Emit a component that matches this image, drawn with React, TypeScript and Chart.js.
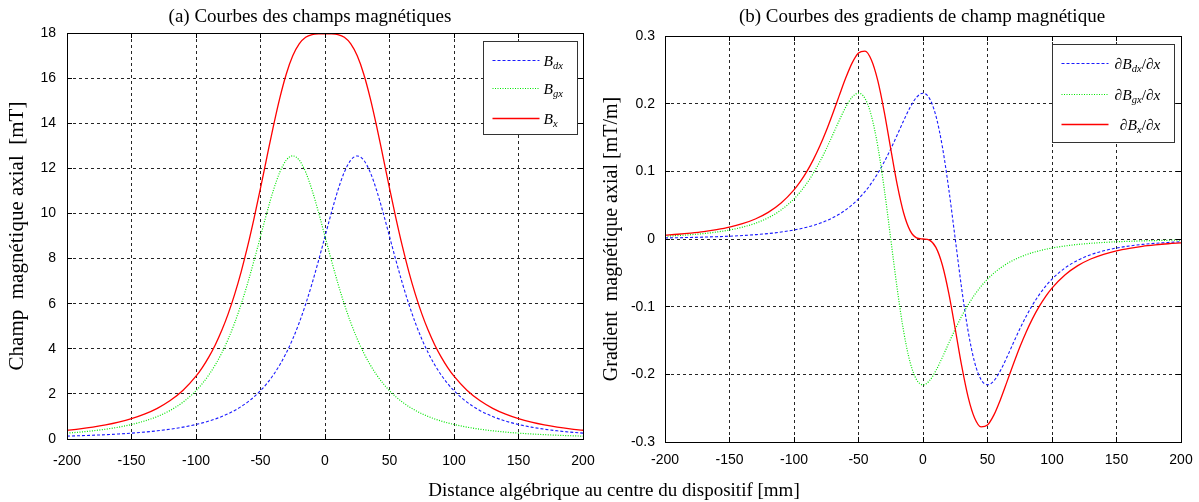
import React, { useEffect, useRef } from "react";
import { Chart, registerables } from "chart.js";

Chart.register(...registerables);

// ---------- data ----------
const xValues = [
  -200, -190, -180, -170, -160, -150, -140, -130, -120, -110,
  -100, -95, -90, -85, -80, -75, -70, -65, -60, -55, -50, -45, -40, -35, -30, -25, -20, -15, -10, -5,
  0, 5, 10, 15, 20, 25, 30, 35, 40, 45, 50, 55, 60, 65, 70, 75, 80, 85, 90, 95, 100,
  110, 120, 130, 140, 150, 160, 170, 180, 190, 200,
];

const fieldBdx = [
  0.128, 0.146, 0.167, 0.192, 0.223, 0.26, 0.306, 0.363, 0.435, 0.526,
  0.643, 0.714, 0.796, 0.889, 0.997, 1.122, 1.268, 1.437, 1.636, 1.868, 2.142, 2.464, 2.845, 3.293, 3.82, 4.437, 5.154, 5.976, 6.9, 7.913,
  8.98, 10.045, 11.028, 11.833, 12.364, 12.55, 12.364, 11.833, 11.028, 10.045, 8.98, 7.913, 6.9, 5.976, 5.154, 4.437, 3.82, 3.293, 2.845, 2.464, 2.142,
  1.636, 1.268, 0.997, 0.796, 0.643, 0.526, 0.435, 0.363, 0.306, 0.26,
];

const fieldBgx = [
  0.26, 0.306, 0.363, 0.435, 0.526, 0.643, 0.796, 0.997, 1.268, 1.636,
  2.142, 2.464, 2.845, 3.293, 3.82, 4.437, 5.154, 5.976, 6.9, 7.913, 8.98, 10.045, 11.028, 11.833, 12.364, 12.55, 12.364, 11.833, 11.028, 10.045,
  8.98, 7.913, 6.9, 5.976, 5.154, 4.437, 3.82, 3.293, 2.845, 2.464, 2.142, 1.868, 1.636, 1.437, 1.268, 1.122, 0.997, 0.889, 0.796, 0.714, 0.643,
  0.526, 0.435, 0.363, 0.306, 0.26, 0.223, 0.192, 0.167, 0.146, 0.128,
];

const fieldBx = [
  0.388, 0.452, 0.53, 0.627, 0.749, 0.903, 1.102, 1.36, 1.703, 2.162,
  2.785, 3.178, 3.641, 4.182, 4.817, 5.559, 6.422, 7.413, 8.536, 9.781, 11.122, 12.509, 13.873, 15.126, 16.184, 16.987, 17.518, 17.809, 17.928, 17.958,
  17.96, 17.958, 17.928, 17.809, 17.518, 16.987, 16.184, 15.126, 13.873, 12.509, 11.122, 9.781, 8.536, 7.413, 6.422, 5.559, 4.817, 4.182, 3.641, 3.178, 2.785,
  2.162, 1.703, 1.36, 1.102, 0.903, 0.749, 0.627, 0.53, 0.452, 0.388,
];

const gradBdx = [
  0.0016, 0.0019, 0.0023, 0.0028, 0.0034, 0.0041, 0.0051, 0.0064, 0.008, 0.0103,
  0.0133, 0.0152, 0.0175, 0.0201, 0.0232, 0.0269, 0.0314, 0.0366, 0.0429, 0.0504, 0.0593, 0.0699, 0.0825, 0.0972, 0.1141, 0.1331, 0.1538, 0.1749, 0.1945, 0.2095,
  0.2155, 0.2078, 0.1821, 0.1365, 0.0735, 0, -0.0735, -0.1365, -0.1821, -0.2078, -0.2155, -0.2095, -0.1945, -0.1749, -0.1538, -0.1331, -0.1141, -0.0972, -0.0825, -0.0699, -0.0593,
  -0.0429, -0.0314, -0.0232, -0.0175, -0.0133, -0.0103, -0.008, -0.0064, -0.0051, -0.0041,
];

const gradBgx = [
  0.0041, 0.0051, 0.0064, 0.008, 0.0103, 0.0133, 0.0175, 0.0232, 0.0314, 0.0429,
  0.0593, 0.0699, 0.0825, 0.0972, 0.1141, 0.1331, 0.1538, 0.1749, 0.1945, 0.2095, 0.2155, 0.2078, 0.1821, 0.1365, 0.0735, 0, -0.0735, -0.1365, -0.1821, -0.2078,
  -0.2155, -0.2095, -0.1945, -0.1749, -0.1538, -0.1331, -0.1141, -0.0972, -0.0825, -0.0699, -0.0593, -0.0504, -0.0429, -0.0366, -0.0314, -0.0269, -0.0232, -0.0201, -0.0175, -0.0152, -0.0133,
  -0.0103, -0.008, -0.0064, -0.0051, -0.0041, -0.0034, -0.0028, -0.0023, -0.0019, -0.0016,
];

const gradBx = [
  0.0057, 0.007, 0.0087, 0.0108, 0.0137, 0.0174, 0.0226, 0.0296, 0.0394, 0.0532,
  0.0726, 0.0851, 0.1, 0.1173, 0.1373, 0.16, 0.1852, 0.2115, 0.2374, 0.2599, 0.2748, 0.2777, 0.2646, 0.2337, 0.1876, 0.1331, 0.0803, 0.0384, 0.0124, 0.0017,
  0, -0.0017, -0.0124, -0.0384, -0.0803, -0.1331, -0.1876, -0.2337, -0.2646, -0.2777, -0.2748, -0.2599, -0.2374, -0.2115, -0.1852, -0.16, -0.1373, -0.1173, -0.1, -0.0851, -0.0726,
  -0.0532, -0.0394, -0.0296, -0.0226, -0.0174, -0.0137, -0.0108, -0.0087, -0.007, -0.0057,
];

// ---------- texts ----------
const titleA = "(a) Courbes des champs magnétiques";
const titleB = "(b) Courbes des gradients de champ magnétique";
const xAxisLabel = "Distance algébrique au centre du dispositif [mm]";
const yLabelA = "Champ  magnétique axial  [mT]";
const yLabelB = "Gradient  magnétique axial [mT/m]";

type Part = { t: string; sub?: boolean; up?: boolean };
const legendA: Part[][] = [
  [{ t: "B" }, { t: "dx", sub: true }],
  [{ t: "B" }, { t: "gx", sub: true }],
  [{ t: "B" }, { t: "x", sub: true }],
];
const legendB: Part[][] = [
  [{ t: "∂B" }, { t: "dx", sub: true }, { t: "/", up: true }, { t: "∂x" }],
  [{ t: "∂B" }, { t: "gx", sub: true }, { t: "/", up: true }, { t: "∂x" }],
  [{ t: "∂B" }, { t: "x", sub: true }, { t: "/", up: true }, { t: "∂x" }],
];

const SERIF = '"Liberation Serif", "Times New Roman", serif';
const SANS = '"Liberation Sans", Arial, sans-serif';

const styles = [
  { color: "#1a1aff", dash: [3, 2], width: 1.1, order: 3 },
  { color: "#00e600", dash: [1, 1.5], width: 1.2, order: 2 },
  { color: "#ff0000", dash: [] as number[], width: 1.3, order: 1 },
];

function drawMath(ctx: CanvasRenderingContext2D, parts: Part[], x: number, baseline: number, align: string) {
  const main = 15.5;
  const sub = 10.5;
  const fontOf = (p: Part) => `${p.up ? "" : "italic "}${p.sub ? sub : main}px ${SERIF}`;
  const widths = parts.map((p) => {
    ctx.font = fontOf(p);
    return ctx.measureText(p.t).width;
  });
  const total = widths.reduce((s, w) => s + w, 0);
  let cx = align === "right" ? x - total : x;
  ctx.fillStyle = "#000";
  ctx.textAlign = "left";
  ctx.textBaseline = "alphabetic";
  parts.forEach((p, i) => {
    ctx.font = fontOf(p);
    ctx.fillText(p.t, cx, p.sub ? baseline + 3 : baseline);
    cx += widths[i];
  });
}

const decorPlugin = {
  id: "decor",
  afterDatasetsDraw(chart: any, _args: any, opts: any) {
    const { ctx, chartArea: a, scales } = chart;
    const al = (v: number) => Math.round(v - 0.5) + 0.5;
    ctx.save();
    ctx.setLineDash([]);
    ctx.strokeStyle = "#000";
    ctx.lineWidth = 1;
    ctx.beginPath();
    const L = 5;
    for (const t of scales.x.ticks) {
      const p = al(scales.x.getPixelForValue(t.value));
      ctx.moveTo(p, a.bottom);
      ctx.lineTo(p, a.bottom - L);
      ctx.moveTo(p, a.top);
      ctx.lineTo(p, a.top + L);
    }
    for (const t of scales.y.ticks) {
      const p = al(scales.y.getPixelForValue(t.value));
      ctx.moveTo(a.left, p);
      ctx.lineTo(a.left + L, p);
      ctx.moveTo(a.right, p);
      ctx.lineTo(a.right - L, p);
    }
    ctx.stroke();
    ctx.strokeRect(al(a.left), al(a.top), Math.round(a.right - a.left), Math.round(a.bottom - a.top));

    const lg = opts.legend;
    const bx = Math.round(a.right - lg.right - lg.w) + 0.5;
    const by = Math.round(a.top + lg.top) + 0.5;
    ctx.fillStyle = "#fff";
    ctx.fillRect(bx, by, lg.w, lg.h);
    ctx.strokeStyle = "#333";
    ctx.lineWidth = 1;
    ctx.strokeRect(bx, by, lg.w, lg.h);
    styles.forEach((st, i) => {
      const y = Math.round(by + lg.rows[i]) + 0.5;
      ctx.beginPath();
      ctx.strokeStyle = st.color;
      ctx.lineWidth = st.width;
      ctx.setLineDash(st.dash);
      ctx.moveTo(bx + 9, y);
      ctx.lineTo(bx + 56, y);
      ctx.stroke();
      ctx.setLineDash([]);
      drawMath(ctx, lg.labels[i], bx + lg.textX, y + 5, lg.align);
    });
    ctx.restore();
  },
};

function makeConfig(p: {
  series: number[][];
  names: string[];
  yMin: number;
  yMax: number;
  yStep: number;
  yTitle: string;
  yTitleSize: number;
  yWidth: number;
  yTitlePad: number;
  yTickPad: number;
  xTickPad: number;
  padTop: number;
  padRight: number;
  padBottom: number;
  legend: any;
  yFmt: (v: number) => string;
}): any {
  const gridOpts = { color: "rgba(0,0,0,0.85)", lineWidth: 1, drawTicks: false };
  const borderOpts = { display: false, dash: [3, 3] };
  return {
    type: "line",
    data: {
      datasets: p.series.map((s, i) => ({
        label: p.names[i],
        data: xValues.map((x, j) => ({ x, y: s[j] })),
        borderColor: styles[i].color,
        borderWidth: styles[i].width,
        borderDash: styles[i].dash,
        order: styles[i].order,
        pointRadius: 0,
        fill: false,
        cubicInterpolationMode: "monotone",
      })),
    },
    options: {
      animation: false,
      responsive: false,
      layout: { padding: { left: 0, top: p.padTop, right: p.padRight, bottom: p.padBottom } },
      plugins: {
        legend: { display: false },
        tooltip: { enabled: false },
        title: { display: false },
        decor: { legend: p.legend },
      },
      scales: {
        x: {
          type: "linear",
          min: -200,
          max: 200,
          ticks: {
            stepSize: 50,
            autoSkip: false,
            maxRotation: 0,
            padding: p.xTickPad,
            color: "#000",
            font: { family: SANS, size: 14 },
            callback: (v: any) => String(Math.round(Number(v))),
          },
          grid: gridOpts,
          border: borderOpts,
          afterFit: (s: any) => {
            s.height = 30;
            s.paddingLeft = 0;
            s.paddingRight = 0;
          },
        },
        y: {
          type: "linear",
          min: p.yMin,
          max: p.yMax,
          ticks: {
            stepSize: p.yStep,
            autoSkip: false,
            padding: p.yTickPad,
            color: "#000",
            font: { family: SANS, size: 14 },
            callback: (v: any) => p.yFmt(Number(v)),
          },
          title: {
            display: true,
            text: p.yTitle,
            color: "#000",
            font: { family: SERIF, size: p.yTitleSize },
            padding: { top: p.yTitlePad, bottom: 0 },
          },
          grid: gridOpts,
          border: borderOpts,
          afterFit: (s: any) => {
            s.width = p.yWidth;
            s.paddingTop = 0;
            s.paddingBottom = 0;
          },
        },
      },
    },
    plugins: [decorPlugin],
  };
}

export default function App() {
  const refA = useRef<HTMLCanvasElement | null>(null);
  const refB = useRef<HTMLCanvasElement | null>(null);

  useEffect(() => {
    const a = new Chart(
      refA.current as HTMLCanvasElement,
      makeConfig({
        series: [fieldBdx, fieldBgx, fieldBx],
        names: ["Bdx", "Bgx", "Bx"],
        yMin: 0,
        yMax: 18,
        yStep: 2,
        yTitle: yLabelA,
        yTitleSize: 21,
        yWidth: 67,
        yTitlePad: 5,
        yTickPad: 11,
        xTickPad: 14,
        padTop: 33,
        padRight: 17,
        padBottom: 33,
        legend: { right: 6, top: 8, w: 94, h: 93, rows: [18, 46, 76], textX: 60, align: "left", labels: legendA },
        yFmt: (v) => String(Math.round(v)),
      })
    );
    const b = new Chart(
      refB.current as HTMLCanvasElement,
      makeConfig({
        series: [gradBdx, gradBgx, gradBx],
        names: ["dBdx/dx", "dBgx/dx", "dBx/dx"],
        yMin: -0.3,
        yMax: 0.3,
        yStep: 0.1,
        yTitle: yLabelB,
        yTitleSize: 20,
        yWidth: 65,
        yTitlePad: 0,
        yTickPad: 10,
        xTickPad: 10,
        padTop: 36,
        padRight: 18,
        padBottom: 30,
        legend: { right: 7, top: 8, w: 122, h: 98, rows: [18, 49, 79], textX: 108, align: "right", labels: legendB },
        yFmt: (v) => {
          const n = Math.round(v * 10) / 10;
          return n === 0 ? "0" : String(n);
        },
      })
    );
    return () => {
      a.destroy();
      b.destroy();
    };
  }, []);

  const textBase: React.CSSProperties = {
    position: "absolute",
    textAlign: "center",
    fontFamily: SERIF,
    fontSize: 19,
    lineHeight: "22px",
    color: "#000",
    whiteSpace: "pre",
  };

  return (
    <div style={{ position: "absolute", left: 0, top: 0, width: 1199, height: 502, background: "#fff", overflow: "hidden" }}>
      <canvas ref={refA} width={600} height={502} style={{ position: "absolute", left: 0, top: 0 }} />
      <canvas ref={refB} width={599} height={502} style={{ position: "absolute", left: 600, top: 0 }} />
      <div style={{ ...textBase, left: 110, width: 400, top: 5 }}>{titleA}</div>
      <div style={{ ...textBase, left: 722, width: 400, top: 5 }}>{titleB}</div>
      <div style={{ ...textBase, left: 314, width: 600, top: 479 }}>{xAxisLabel}</div>
    </div>
  );
}
